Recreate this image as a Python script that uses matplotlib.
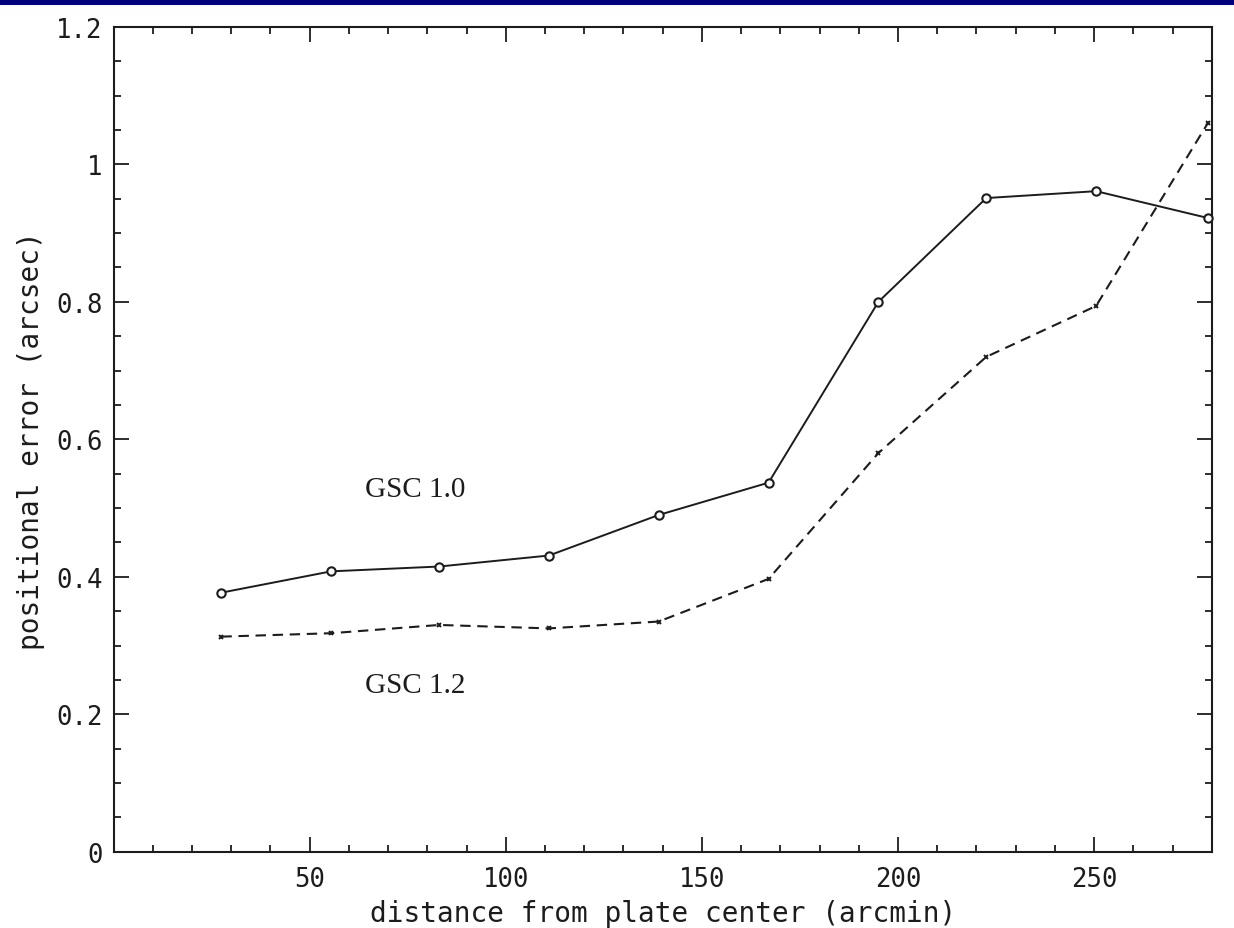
import matplotlib
matplotlib.use('Agg')
import matplotlib.pyplot as plt
from matplotlib.ticker import MultipleLocator, FixedLocator
from matplotlib.patches import Rectangle

# data
distance = [27.5, 55.5, 83, 111, 139, 167, 195, 222.5, 250.5, 279]
gsc10 = [0.377, 0.408, 0.415, 0.431, 0.49, 0.537, 0.80, 0.951, 0.961, 0.922]
gsc12 = [0.313, 0.318, 0.330, 0.325, 0.335, 0.397, 0.58, 0.72, 0.794, 1.06]

x_ticks = [50, 100, 150, 200, 250]
y_ticks = [0, 0.2, 0.4, 0.6, 0.8, 1.0, 1.2]
y_tick_labels = ['0', '0.2', '0.4', '0.6', '0.8', '1', '1.2']

ink = '#1c1c1c'
mono = 'DejaVu Sans Mono'

fig = plt.figure(figsize=(12.34, 9.29), dpi=100)
ax = fig.add_axes([0.092, 0.082, 0.890, 0.888])

# blue band at the top of the slide
fig.patches.append(Rectangle((0, 0.994), 1, 0.006, transform=fig.transFigure,
                             facecolor='#00007a', edgecolor='none'))

ax.plot(distance, gsc10, color=ink, lw=1.4, marker='o', ms=6,
        mfc='white', mec=ink, mew=1.5, clip_on=False, zorder=3)
ax.plot(distance, gsc12, color=ink, lw=1.5, ls=(0, (5, 3.2)), marker='x',
        ms=3.5, mew=1.4, mec=ink, clip_on=False, zorder=3)

ax.text(64, 0.528, 'GSC 1.0', family='Liberation Serif', fontsize=21,
        color=ink, va='center', ha='left')
ax.text(64, 0.243, 'GSC 1.2', family='Liberation Serif', fontsize=21,
        color=ink, va='center', ha='left')

ax.set_xlim(0, 280)
ax.set_ylim(0, 1.2)
ax.xaxis.set_major_locator(FixedLocator(x_ticks))
ax.xaxis.set_minor_locator(MultipleLocator(10))
ax.yaxis.set_major_locator(FixedLocator(y_ticks))
ax.yaxis.set_minor_locator(MultipleLocator(0.05))
ax.set_yticklabels(y_tick_labels)

ax.tick_params(which='both', direction='in', top=True, right=True,
               color=ink, width=1.3)
ax.tick_params(which='major', length=11, labelsize=18.5, labelcolor=ink)
ax.tick_params(axis='x', which='major', pad=10)
ax.tick_params(axis='y', which='major', pad=8)
ax.tick_params(which='minor', length=5)
for lab in ax.get_xticklabels() + ax.get_yticklabels():
    lab.set_family(mono)

for s in ax.spines.values():
    s.set_linewidth(1.5)
    s.set_color(ink)

ax.set_xlabel('distance from plate center (arcmin)', family=mono,
              fontsize=20, color=ink, labelpad=5)
ax.set_ylabel('positional error (arcsec)', family=mono,
              fontsize=20, color=ink, labelpad=8)

fig.savefig('out.png', dpi=100)
